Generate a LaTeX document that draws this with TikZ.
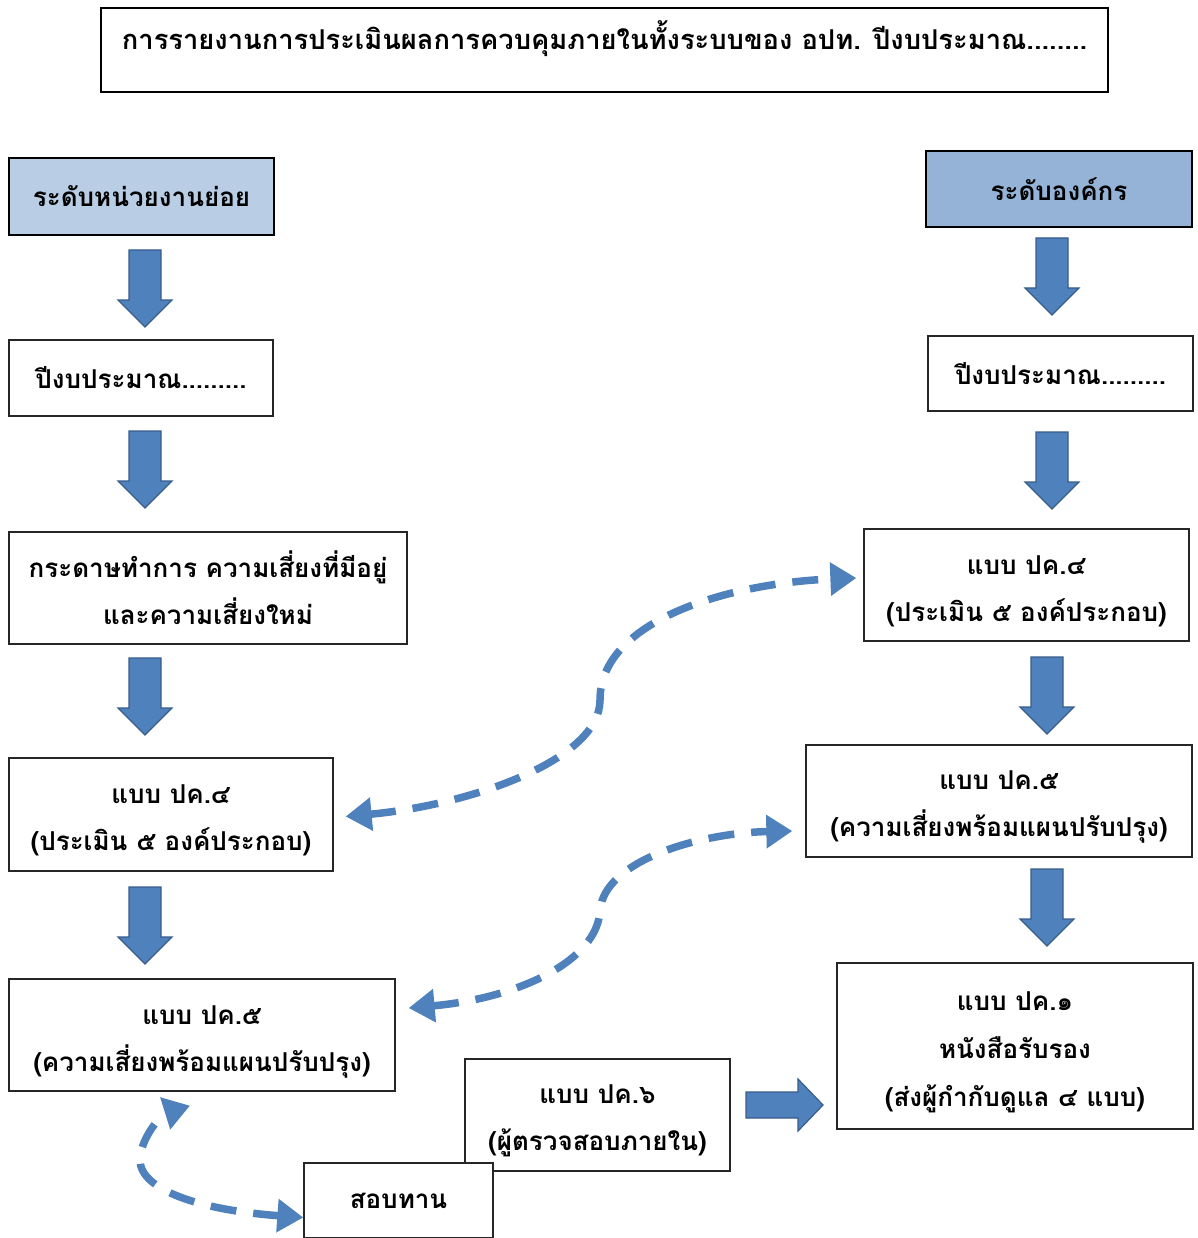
\documentclass[tikz,border=0pt]{standalone}
\usepackage{fontspec}
\newfontfamily\thai[Script=Thai]{Loma}
\usetikzlibrary{arrows.meta}
\definecolor{hdrL}{HTML}{B9CDE5}
\definecolor{hdrR}{HTML}{95B3D7}
\definecolor{arrfill}{HTML}{4F81BD}
\definecolor{arrline}{HTML}{385D8A}
\begin{document}
\begin{tikzpicture}[x=1pt,y=-1pt,
  txt/.style={inner sep=0pt,align=center,font=\thai\bfseries\fontsize{26}{47}\selectfont},
  box/.style={txt,draw=black!85,line width=1.3pt,fill=white},
  lbl/.style={txt,yshift=-6pt},
  hdr/.style={box,line width=2.6pt,draw=black},
  blockarrow/.style={fill=arrfill,draw=arrline,line width=1.2pt},
  dashlink/.style={draw=arrfill,line width=7.5pt,dash pattern=on 26pt off 17pt,
    {Triangle[length=26pt,width=32pt]}-{Triangle[length=26pt,width=32pt]}},
  dnarrow/.pic={\path[blockarrow] (-16,0) -- (16,0) -- (16,50) -- (27,50) -- (0,77) -- (-27,50) -- (-16,50) -- cycle;},
  rtarrow/.pic={\path[blockarrow] (0,-13) -- (52,-13) -- (52,-26) -- (77,0) -- (52,26) -- (52,13) -- (0,13) -- cycle;}
]
\useasboundingbox[fill=white] (0,0) rectangle (1197,1238);

% title
\node[hdr,minimum width=1007pt,minimum height=84pt,text height=22pt,text depth=22pt,
  font=\thai\bfseries\fontsize{27.3}{40}\selectfont] (title) at (604.5,50)
  {การรายงานการประเมินผลการควบคุมภายในทั้งระบบของ อปท. ปีงบประมาณ........};

% headers
\node[hdr,fill=hdrL,minimum width=265pt,minimum height=77pt] (hL) at (141.5,196.5) {ระดับหน่วยงานย่อย};
\node[hdr,fill=hdrR,minimum width=266pt,minimum height=76pt] (hR) at (1059,189) {ระดับองค์กร};

% left column
\node[box,minimum width=264pt,minimum height=76pt] (L1) at (141,378) {ปีงบประมาณ.........};
\node[box,minimum width=398pt,minimum height=112pt] (L2) at (208,588) {กระดาษทำการ ความเสี่ยงที่มีอยู่\\และความเสี่ยงใหม่};
\node[box,minimum width=324pt,minimum height=113pt,
  label={[lbl]center:{แบบ ปค.๔\\(ประเมิน ๕ องค์ประกอบ)}}] (L3) at (171,814.5) {};
\node[box,minimum width=386pt,minimum height=112pt,
  label={[lbl,yshift=-1pt]center:{แบบ ปค.๕\\(ความเสี่ยงพร้อมแผนปรับปรุง)}}] (L4) at (202,1035) {};

% right column
\node[box,minimum width=265pt,minimum height=75pt] (R1) at (1060.5,373.5) {ปีงบประมาณ.........};
\node[box,minimum width=325pt,minimum height=112pt,
  label={[lbl]center:{แบบ ปค.๔\\(ประเมิน ๕ องค์ประกอบ)}}] (R2) at (1026.5,585) {};
\node[box,minimum width=386pt,minimum height=112pt,
  label={[lbl]center:{แบบ ปค.๕\\(ความเสี่ยงพร้อมแผนปรับปรุง)}}] (R3) at (999,801) {};
\node[box,minimum width=356pt,minimum height=166pt,
  label={[lbl,font=\thai\bfseries\fontsize{26}{48}\selectfont]center:{แบบ ปค.๑\\หนังสือรับรอง\\(ส่งผู้กำกับดูแล ๔ แบบ)}}] (R4) at (1015,1046) {};

% bottom middle
\node[box,minimum width=265pt,minimum height=112pt,
  label={[lbl]center:{แบบ ปค.๖\\(ผู้ตรวจสอบภายใน)}}] (P6) at (597.5,1115) {};
\node[box,minimum width=189pt,minimum height=75pt] (ST) at (398.5,1200.5) {สอบทาน};

% block arrows
\pic at (145,250) {dnarrow};
\pic at (145,431) {dnarrow};
\pic at (145,658) {dnarrow};
\pic at (145,887) {dnarrow};
\pic at (1052,238) {dnarrow};
\pic at (1052,432) {dnarrow};
\pic at (1047,657) {dnarrow};
\pic at (1047,869) {dnarrow};
\pic at (746,1105) {rtarrow};

% dashed links
\draw[dashlink] ([xshift=12pt,yshift=-2pt]L3.east) .. controls (470,805) and (600,760) .. (600,700)
  .. controls (600,620) and (730,583) .. ([xshift=-7pt,yshift=7pt]R2.west);
\draw[dashlink] ([xshift=13pt,yshift=27pt]L4.east) .. controls (520,998) and (598,960) .. (600,910)
  .. controls (605,860) and (700,833) .. ([xshift=-13pt,yshift=-30pt]R3.west);
\draw[dashlink] ([yshift=-17pt]ST.west) .. controls (200,1210) and (140,1190) .. (140,1160)
  .. controls (140,1140) and (160,1115) .. ([xshift=-12pt,yshift=-14pt]L4.south);
\end{tikzpicture}
\end{document}
